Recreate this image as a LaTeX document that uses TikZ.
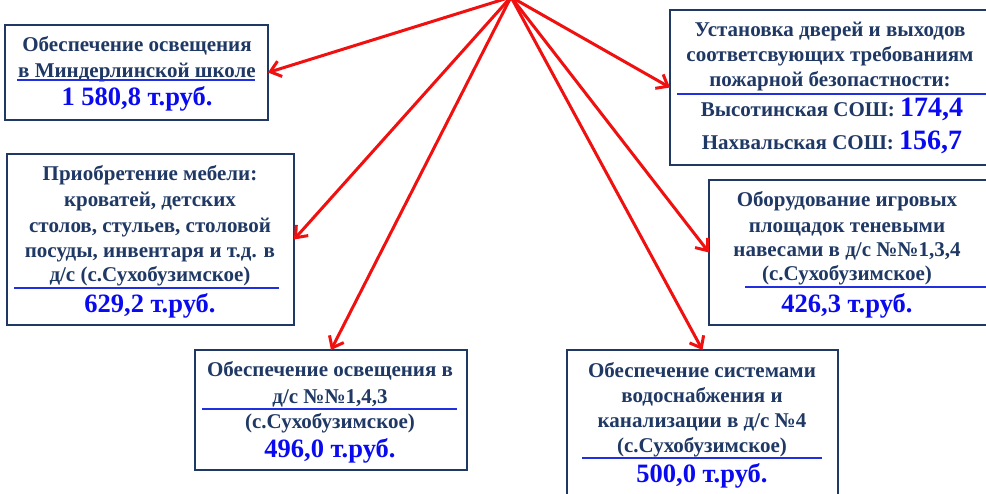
\documentclass[tikz,border=0pt]{standalone}
\usepackage{fontspec}
\setmainfont{Liberation Serif}
\usetikzlibrary{arrows.meta}
\definecolor{navy}{HTML}{1F3864}
\definecolor{numblue}{HTML}{0A0AF0}
\definecolor{sepblue}{HTML}{2030E0}
\definecolor{arrowred}{HTML}{F01010}
\newcommand\bnum[1]{{\color{numblue}\fontsize{28}{28}\selectfont #1}}
\begin{document}
\begin{tikzpicture}[x=1pt,y=-1pt,
 box/.style={draw=navy,line width=2.5pt,rectangle,inner sep=0pt,outer sep=0pt},
 txt/.style={anchor=base,text=navy,font=\bfseries\fontsize{21}{21}\selectfont,inner sep=0pt},
 num/.style={anchor=base,text=numblue,font=\bfseries\fontsize{26.5}{26.5}\selectfont,inner sep=0pt},
 sep/.style={draw=sepblue,line width=2pt},
 arr/.style={draw=arrowred,line width=3pt,-{Straight Barb[length=10pt,width=16pt]}}
]
\useasboundingbox (0,0) rectangle (986,493);
\clip (0,0) rectangle (986,493);
\fill[white] (0,0) rectangle (986,493);

% boxes
\node[box,minimum width=263pt,minimum height=95pt] (A) at (136.5,72.5) {};
\node[box,minimum width=320pt,minimum height=155pt] (B) at (830,87.5) {};
\node[box,minimum width=287pt,minimum height=171pt] (C) at (150.5,239.5) {};
\node[box,minimum width=281pt,minimum height=145pt] (D) at (849.5,252.5) {};
\node[box,minimum width=272pt,minimum height=120pt] (E) at (331,410) {};
\node[box,minimum width=271pt,minimum height=160pt] (F) at (702.5,430) {};

% box A
\node[txt] (a1) at (137,51) {Обеспечение освещения};
\node[txt] (a2) at (137,77) {в Миндерлинской школе};
\draw[sep] (17,80) -- (255,80);
\node[num] (a3) at (137,105) {1 580,8 т.руб.};

% box B
\node[txt] (b1) at (830,36) {Установка дверей и выходов};
\node[txt] (b2) at (830,61) {соответсвующих требованиям};
\node[txt] (b3) at (830,86) {пожарной безопастности:};
\draw[sep] (677,94) -- (986,94);
\node[txt] (b4) at (832,116) {Высотинская СОШ: \bnum{174,4}};
\node[txt] (b5) at (832,149) {Нахвальская СОШ: \bnum{156,7}};

% box C
\node[txt] (c1) at (150,180) {Приобретение мебели:};
\node[txt] (c2) at (150,206) {кроватей, детских};
\node[txt] (c3) at (150,232) {столов, стульев, столовой};
\node[txt] (c4) at (150,257) {посуды, инвентаря и т.д. в};
\node[txt] (c5) at (150,281) {д/с (с.Сухобузимское)};
\draw[sep] (14,288) -- (279,288);
\node[num] (c6) at (150,312) {629,2 т.руб.};

% box D
\node[txt] (d1) at (847,206) {Оборудование игровых};
\node[txt] (d2) at (847,232) {площадок теневыми};
\node[txt] (d3) at (847,256) {навесами в д/с №№1,3,4};
\node[txt] (d4) at (847,280) {(с.Сухобузимское)};
\draw[sep] (745,287) -- (986,287);
\node[num] (d5) at (847,312) {426,3 т.руб.};

% box E
\node[txt] (e1) at (330,376) {Обеспечение освещения в};
\node[txt] (e2) at (330,403) {д/с №№1,4,3};
\draw[sep] (202,409) -- (457,409);
\node[txt] (e3) at (330,428) {(с.Сухобузимское)};
\node[num] (e4) at (330,457) {496,0 т.руб.};

% box F
\node[txt] (f1) at (702,377) {Обеспечение системами};
\node[txt] (f2) at (702,402) {водоснабжения и};
\node[txt] (f3) at (702,427) {канализации в д/с №4};
\node[txt] (f4) at (702,452) {(с.Сухобузимское)};
\draw[sep] (582,458) -- (822,458);
\node[num] (f5) at (702,482) {500,0 т.руб.};

% arrows
\coordinate (src) at (511,-3);
\draw[arr] (src) -- (A.east);
\draw[arr] (src) -- (B.west);
\draw[arr] (src) -- (C.east);
\draw[arr] (src) -- (D.west);
\draw[arr] (src) -- (E.north);
\draw[arr] (src) -- (F.north);
\end{tikzpicture}
\end{document}
